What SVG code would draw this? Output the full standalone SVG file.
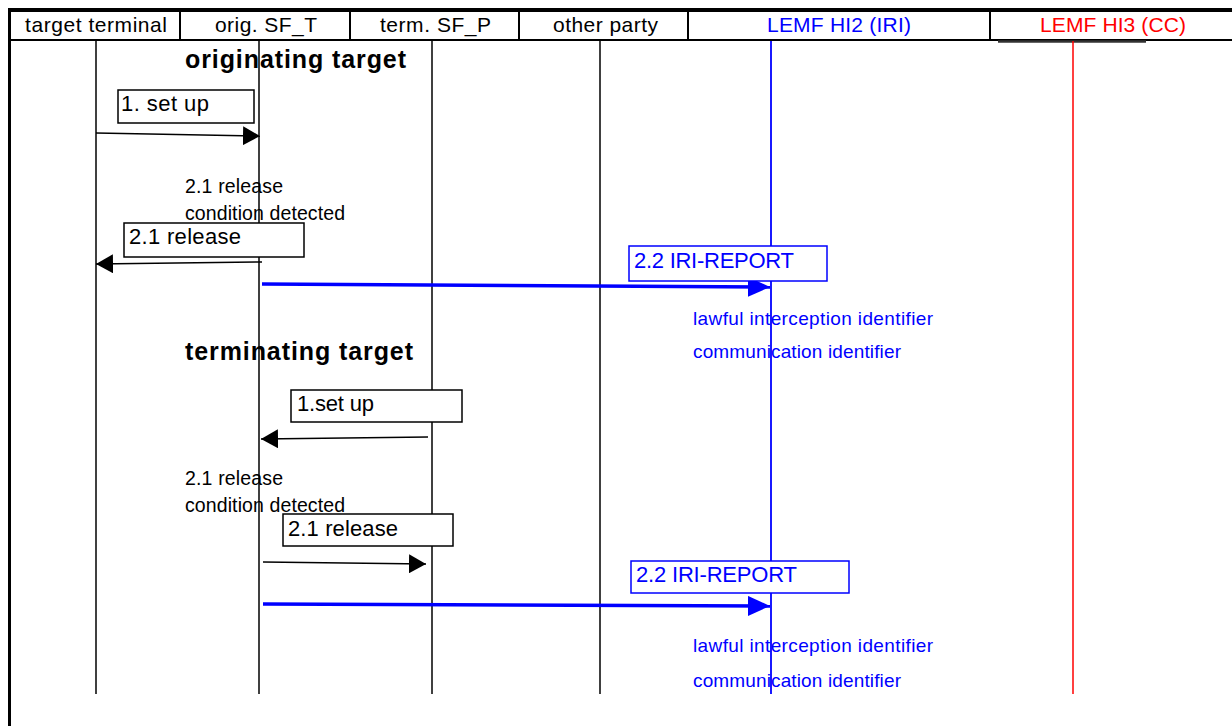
<svg xmlns="http://www.w3.org/2000/svg" width="1232" height="726" viewBox="0 0 1232 726">
<defs>
<style>
text{font-family:"Liberation Sans",Arial,sans-serif;fill:#000;}
.hdr{font-size:21px;text-anchor:middle;}
.title{font-size:25px;font-weight:bold;}
.lbl{font-size:22px;}
.note{font-size:19.5px;}
.id{font-size:19px;}
text.blue{fill:#0000ff;}
text.red{fill:#ff0000;}
.life{stroke:#000;stroke-width:1.5;fill:none;}
.box{fill:#fff;stroke:#000;stroke-width:1.5;}
.bbox{fill:#fff;stroke:#0000ff;stroke-width:1.5;}
.msg{stroke:#000;stroke-width:1.5;fill:none;marker-end:url(#ah);}
.bmsg{stroke:#0000ff;stroke-width:3.5;fill:none;marker-end:url(#bah);}
</style>
<marker id="ah" markerUnits="userSpaceOnUse" markerWidth="17" markerHeight="19" refX="17" refY="9.5" orient="auto"><path d="M0,0 L17,9.5 L0,19 z" fill="#000"/></marker>
<marker id="bah" markerUnits="userSpaceOnUse" markerWidth="22" markerHeight="20" refX="22" refY="10" orient="auto"><path d="M0,0 L22,10 L0,20 z" fill="#0000ff"/></marker>
</defs>
<rect width="1232" height="726" fill="#fff"/>
<g id="frame">
<line x1="9" y1="10" x2="1232" y2="10" stroke="#000" stroke-width="4"/>
<line x1="9.5" y1="8" x2="9.5" y2="726" stroke="#000" stroke-width="3"/>
<line x1="9" y1="40" x2="1232" y2="40" stroke="#000" stroke-width="2"/>
<line x1="998" y1="41.5" x2="1146" y2="41.5" stroke="#333" stroke-width="2.5"/>
<line x1="180" y1="10" x2="180" y2="41" stroke="#000" stroke-width="2"/>
<line x1="350" y1="10" x2="350" y2="41" stroke="#000" stroke-width="2"/>
<line x1="519" y1="10" x2="519" y2="41" stroke="#000" stroke-width="2"/>
<line x1="688" y1="10" x2="688" y2="41" stroke="#000" stroke-width="2"/>
<line x1="990" y1="10" x2="990" y2="41" stroke="#000" stroke-width="2"/>
</g>
<g id="target-terminal"><text class="hdr" x="96" y="31.5" textLength="142">target terminal</text><line class="life" x1="96" y1="41" x2="96" y2="694"/></g>
<g id="orig-sf-t"><text class="hdr" x="266" y="31.5" textLength="102">orig. SF_T</text><line class="life" x1="259" y1="41" x2="259" y2="694"/></g>
<g id="term-sf-p"><text class="hdr" x="435.5" y="31.5" textLength="111">term. SF_P</text><line class="life" x1="432" y1="41" x2="432" y2="694"/></g>
<g id="other-party"><text class="hdr" x="605.5" y="31.5" textLength="105">other party</text><line class="life" x1="600" y1="41" x2="600" y2="694"/></g>
<g id="lemf-hi2"><text class="hdr blue" x="839" y="31.5" textLength="144">LEMF HI2 (IRI)</text><line x1="771" y1="41" x2="771" y2="694" stroke="#0000ff" stroke-width="1.8"/></g>
<g id="lemf-hi3"><text class="hdr red" x="1113" y="31.5" textLength="146">LEMF HI3 (CC)</text><line x1="1073" y1="41" x2="1073" y2="694" stroke="#ff0000" stroke-width="1.5"/></g>
<g id="section-orig"><text class="title" x="185" y="68" textLength="221">originating target</text></g>
<g id="section-term"><text class="title" x="185" y="360" textLength="228">terminating target</text></g>
<g id="connectors">
<path class="msg" d="M96,133 L260,136"/>
<path class="msg" d="M262,262 L96,264"/>
<path class="bmsg" d="M262,284 L770,287"/>
<path class="msg" d="M428,437 L261,439"/>
<path class="msg" d="M263,562 L426,564"/>
<path class="bmsg" d="M263,604 L770,606"/>
</g>
<g id="msg1-setup"><rect class="box" x="118" y="90" width="136" height="33"/><text class="lbl" x="121" y="111" textLength="88">1. set up</text></g>
<g id="note-release-1"><text class="note" x="185" y="193" textLength="98">2.1 release</text><text class="note" x="185" y="220" textLength="160">condition detected</text></g>
<g id="msg21-release-1"><rect class="box" x="124" y="223" width="180" height="34"/><text class="lbl" x="129" y="244" textLength="112">2.1 release</text></g>
<g id="msg22-iri-1"><rect class="bbox" x="629" y="246" width="198" height="35"/><text class="lbl blue" x="634" y="268" textLength="160">2.2 IRI-REPORT</text></g>
<g id="iri-params-1"><text class="id blue" x="693" y="325" textLength="240">lawful interception identifier</text><text class="id blue" x="693" y="358" textLength="208">communication identifier</text></g>
<g id="msg1-setup-term"><rect class="box" x="291" y="390" width="171" height="32"/><text class="lbl" x="297" y="411" textLength="77">1.set up</text></g>
<g id="note-release-2"><text class="note" x="185" y="485" textLength="98">2.1 release</text><text class="note" x="185" y="512" textLength="160">condition detected</text></g>
<g id="msg21-release-2"><rect class="box" x="283" y="514" width="170" height="32"/><text class="lbl" x="288" y="536" textLength="110">2.1 release</text></g>
<g id="msg22-iri-2"><rect class="bbox" x="631" y="561" width="218" height="32"/><text class="lbl blue" x="636" y="582" textLength="161">2.2 IRI-REPORT</text></g>
<g id="iri-params-2"><text class="id blue" x="693" y="652" textLength="240">lawful interception identifier</text><text class="id blue" x="693" y="687" textLength="208">communication identifier</text></g>
</svg>
